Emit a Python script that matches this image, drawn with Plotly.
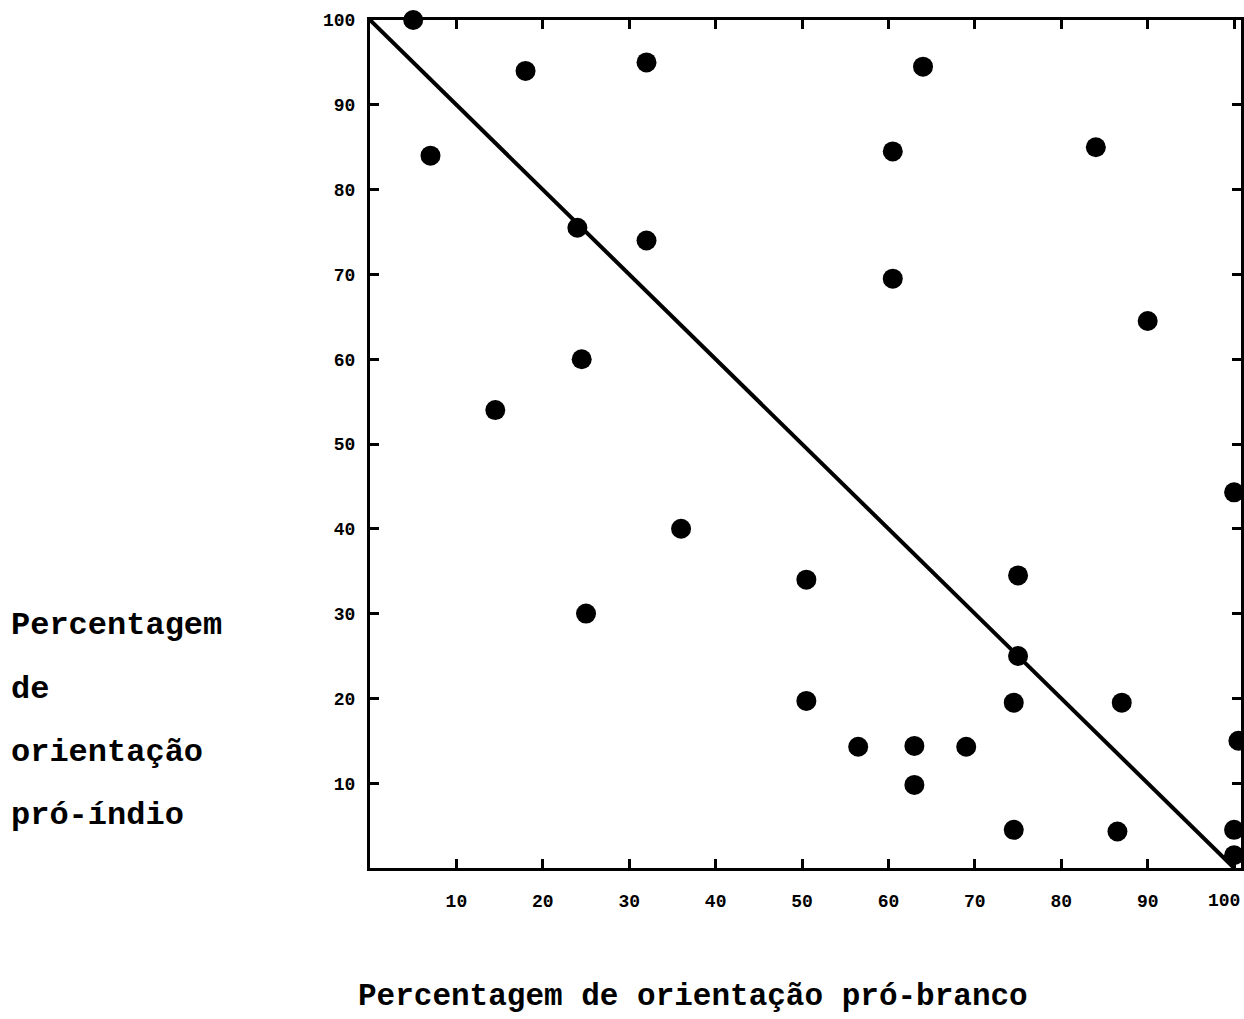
import plotly.graph_objects as go

# Values
pro_branco = [5, 7, 18, 32, 24, 32, 24.5, 14.5, 64, 60.5, 60.5, 84, 90,
              36, 25, 50.5, 50.5, 75, 75, 74.5, 87, 56.5, 63, 69, 63,
              74.5, 86.5, 100, 100.5, 100, 100]
pro_indio = [100, 84, 94, 95, 75.5, 74, 60, 54, 94.5, 84.5, 69.5, 85, 64.5,
             40, 30, 34, 19.7, 34.5, 25, 19.5, 19.5, 14.3, 14.4, 14.3, 9.8,
             4.5, 4.3, 44.3, 15, 4.5, 1.5]

# Reference diagonal (equal orientation line)
diag_x = [0, 100]
diag_y = [100, 0]

tick_vals = [10, 20, 30, 40, 50, 60, 70, 80, 90, 100]
tick_text = ["10", "20", "30", "40", "50", "60", "70", "80", "90", "100"]

y_title_lines = ["Percentagem", "de", "orientação", "pró-índio"]
x_title = "Percentagem de orientação pró-branco"

MONO = "Liberation Mono, Courier New, monospace"
L, T, W, H = 370, 20, 874, 848

fig = go.Figure()
fig.add_trace(go.Scatter(x=diag_x, y=diag_y, mode="lines",
                         line=dict(color="black", width=4),
                         hoverinfo="skip", showlegend=False, cliponaxis=False))
fig.add_trace(go.Scatter(x=pro_branco, y=pro_indio, mode="markers",
                         marker=dict(color="black", size=20),
                         showlegend=False, cliponaxis=False))

tick_font = dict(family=MONO, size=18, color="black", weight="bold")
axis_common = dict(showline=True, linecolor="black", linewidth=3,
                   mirror="ticks", ticks="inside", ticklen=9, tickwidth=3,
                   tickcolor="black", showgrid=False, zeroline=False,
                   tickvals=tick_vals, tickfont=tick_font)

# last x label sits at the page edge: draw it as an annotation so it stays visible
x_ticktext = tick_text[:-1] + [""]
fig.update_xaxes(range=[0, 100.8], ticklabelstandoff=14, ticktext=x_ticktext, **axis_common)
fig.update_yaxes(range=[0, 100], ticklabelstandoff=8, ticktext=tick_text, **axis_common)

fig.add_annotation(text=tick_text[-1], x=tick_vals[-1], xref="x",
                   yref="paper", y=(T + H - 901) / H,
                   xanchor="right", yanchor="middle", xshift=8, showarrow=False,
                   font=tick_font)

line_y = [625, 689, 752, 815]
for txt, py in zip(y_title_lines, line_y):
    fig.add_annotation(text=txt, xref="paper", yref="paper",
                       x=(8 - L) / W, y=(T + H - py) / H,
                       xanchor="left", yanchor="middle", showarrow=False,
                       font=dict(family=MONO, size=32, color="black", weight="bold"))

fig.add_annotation(text=x_title, xref="paper", yref="paper",
                   x=(356 - L) / W, y=(T + H - 997) / H,
                   xanchor="left", yanchor="middle", showarrow=False,
                   font=dict(family=MONO, size=31, color="black", weight="bold"))

fig.update_layout(width=1244, height=1019,
                  margin=dict(l=L, r=1244 - L - W, t=T, b=1019 - T - H),
                  plot_bgcolor="white", paper_bgcolor="white")

fig.write_html("out.html", config={"displayModeBar": False},
               post_script="document.body.style.margin='0';document.body.style.overflow='hidden';")
